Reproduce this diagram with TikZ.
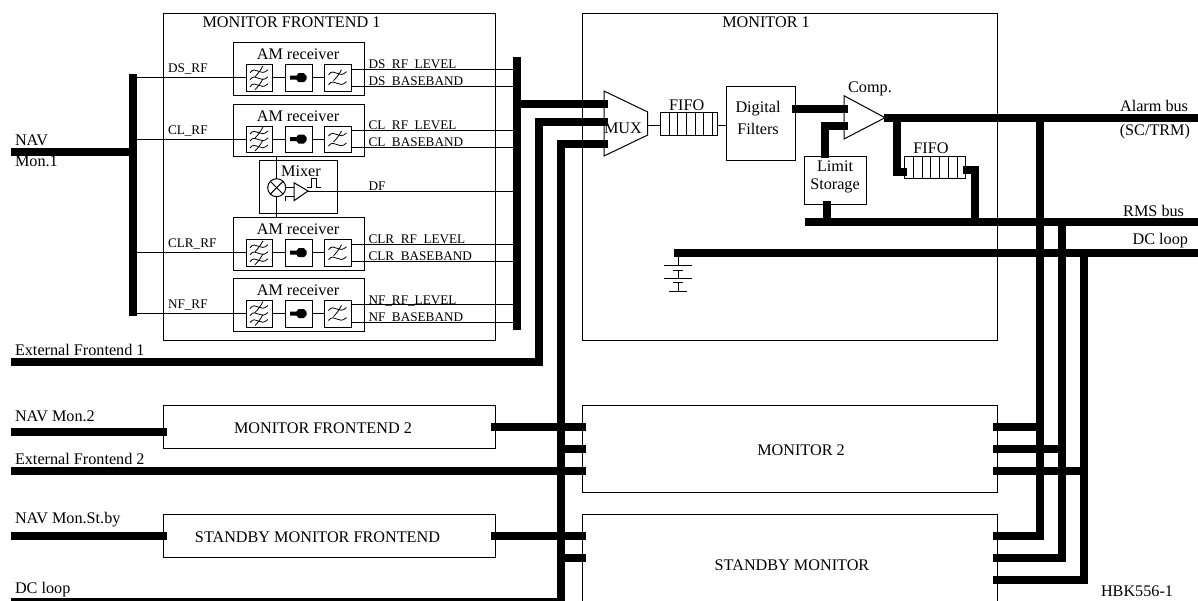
\documentclass[tikz,border=0pt]{standalone}
\usepackage{fontspec}
\setmainfont{Liberation Serif}
\tikzset{
  boxst/.style={draw=black,line width=0.75pt,inner sep=0pt,outer sep=0pt,fill=none},
  thin wire/.style={draw=black,line width=0.75pt},
  fine/.style={draw=black,line width=0.6pt},
  bus/.style={draw=black,line width=6pt,line cap=butt,line join=miter},
  txt/.style={font=\fontsize{12.15}{14}\selectfont,inner sep=0pt,outer sep=0pt},
  sig/.style={font=\fontsize{9.9}{12}\selectfont,inner sep=0pt,outer sep=0pt},
}
\newcommand\bx[5]{%
  \pgfmathsetmacro\bw{((#4)-(#2))*0.75}\pgfmathsetmacro\bh{((#5)-(#3))*0.75}%
  \node[boxst,minimum width=\bw pt,minimum height=\bh pt] (#1) at ({((#2)+(#4))/2},{((#3)+(#5))/2}) {};}
\newcommand\fwave[1]{\draw[fine] (4,#1+2) .. controls (10,#1-6) and (14,#1+7) .. (22,#1-1);}
\newcommand\fslash[1]{\draw[fine] (9,#1+5) .. controls (12,#1+2) and (15,#1-2) .. (17,#1-6);}
% receiver: #1 name, #2 top y, #3 rf label, #4 output-1, #5 output-2
\newcommand\amrx[5]{%
  \pgfmathsetmacro\Ta{#2}%
  \bx{#1}{233}{\Ta}{364}{\Ta+52.5}
  \node[txt] (#1t) at (298,{\Ta+12}) {AM receiver};
  \bx{#1a}{246}{\Ta+22}{272}{\Ta+48.5}
  \bx{#1b}{285}{\Ta+22}{312}{\Ta+48.5}
  \bx{#1c}{324.5}{\Ta+22}{351.5}{\Ta+48.5}
  \begin{scope}[shift={(246,\Ta+22)}]
    \fwave{6}\fwave{13}\fwave{20}\fslash{7}\fslash{20}
  \end{scope}
  \begin{scope}[shift={(324.5,\Ta+22)}]
    \fwave{8}\fwave{18}\fslash{11}
  \end{scope}
  \fill[black] (290,\Ta+33) -- (296.5,\Ta+33) -- (298.5,\Ta+30.5) -- (304,\Ta+30.5) -- (306.7,\Ta+33.5) -- (306.7,\Ta+36.5) -- (304,\Ta+39.5) -- (298.5,\Ta+39.5) -- (296.5,\Ta+37) -- (290,\Ta+37) -- cycle;
  \coordinate (#1in) at (246,\Ta+35);
  \coordinate (#1ra) at (137,\Ta+35);
  \draw[thin wire] (#1ra) -- (#1in);
  \draw[thin wire] (#1a.east |- #1in) -- (#1b.west |- #1in);
  \draw[thin wire] (#1b.east |- #1in) -- (#1c.west |- #1in);
  \coordinate (#1ua) at (351.5,\Ta+26.3);
  \coordinate (#1ub) at (513,\Ta+26.3);
  \coordinate (#1va) at (351.5,\Ta+43.5);
  \coordinate (#1vb) at (513,\Ta+43.5);
  \draw[thin wire] (#1ua) -- (#1ub);
  \draw[thin wire] (#1va) -- (#1vb);
  \node[sig,anchor=base west] (#1l) at (168,\Ta+30) {#3};
  \node[sig,anchor=base west] (#1m) at (368.5,\Ta+25.5) {#4};
  \node[sig,anchor=base west] (#1n) at (368.5,\Ta+42.7) {#5};
}
\newcommand\fifo[6]{% name x1 y1 x2 y2 first-divider
  \bx{#1}{#2}{#3}{#4}{#5}
  \foreach \i in {0,...,5} {\draw[thin wire] ({#6+8.7*\i},#3) -- ({#6+8.7*\i},#5);}
}
\begin{document}
\begin{tikzpicture}[x=0.75pt,y=-0.75pt]
\useasboundingbox (0,0) rectangle (1198,600);
\clip (0,0) rectangle (1198,600);
% big boxes
\bx{fe1}{163}{13}{495}{340}
\bx{mon1}{582}{13}{997}{340}
\bx{fe2}{163}{405.3}{495}{448.7}
\bx{fes}{163}{514.3}{495}{557.7}
\bx{mon2}{582}{405.3}{997}{492.3}
\bx{mons}{582}{514.3}{997}{612}
\node[txt] (fe1t) at (291.5,22.5) {MONITOR FRONTEND 1};
\node[txt] (mon1t) at (766,22.5) {MONITOR 1};
\node[txt] (fe2t) at (323,428) {MONITOR FRONTEND 2};
\node[txt] (fest) at (317.5,537) {STANDBY MONITOR FRONTEND};
\node[txt] (mon2t) at (801,450) {MONITOR 2};
\node[txt] (monst) at (792,565) {STANDBY MONITOR};
% receivers
\amrx{ds}{42.7}{DS\_RF}{DS\_RF\_LEVEL}{DS\_BASEBAND}
\amrx{cl}{104}{CL\_RF}{CL\_RF\_LEVEL}{CL\_BASEBAND}
\amrx{clr}{217.7}{CLR\_RF}{CLR\_RF\_LEVEL}{CLR\_BASEBAND}
\amrx{nf}{278.5}{NF\_RF}{NF\_RF\_LEVEL}{NF\_BASEBAND}
% mixer
\bx{mix}{259.3}{160.3}{337.7}{213.3}
\node[txt] (mixt) at (301,171.5) {Mixer};
\node[draw=black,line width=0.75pt,circle,minimum size=13.5pt,inner sep=0pt,outer sep=0pt] (mult) at (276.7,187.7) {};
\draw[thin wire] (mult.north west) -- (mult.south east);
\draw[thin wire] (mult.north east) -- (mult.south west);
\coordinate (cltap) at (276.7,156);
\coordinate (clrtap) at (276.7,217.7);
\draw[thin wire] (cltap) -- (mult);
\draw[thin wire] (clrtap) -- (mult);
\coordinate (ampa) at (294,182.7);
\coordinate (ampb) at (294,200.7);
\coordinate (ampc) at (308,191);
\draw[thin wire] (ampa) -- (ampb) -- (ampc) -- cycle;
\draw[thin wire] (mult.east) -- (294,187.7);
\draw[thin wire] (285,200.7) -- (285,196) -- (294,196);
\draw[fine] (307.3,187.3) -- (311.7,187.3) -- (311.7,178.3) -- (316.7,178.3) -- (316.7,187.3) -- (320.7,187.3);
\coordinate (dfend) at (513,191);
\draw[thin wire] (ampc) -- (dfend);
\node[sig,anchor=base west] (dft) at (368.5,190) {DF};
% NAV input
\coordinate (navA) at (11,152); \coordinate (navB) at (133,152);
\coordinate (barAt) at (133,74); \coordinate (barAb) at (133,316);
\draw[bus] (navA) -- (navB);
\draw[bus] (barAt) -- (barAb);
\coordinate (barBt) at (517,57); \coordinate (barBb) at (517,330);
\draw[bus] (barBt) -- (barBb);
% monitor 1 internals
\coordinate (mx1) at (604,91); \coordinate (mx2) at (647.7,112); \coordinate (mx3) at (647.7,135); \coordinate (mx4) at (604,156);
\draw[thin wire] (mx1) -- (mx2) -- (mx3) -- (mx4) -- cycle;
\fifo{ff1}{660.3}{112.7}{717.7}{135}{669}
\node[txt] (ff1t) at (686.7,105) {FIFO};
\bx{dig}{726}{86.7}{795.7}{160.3}
\node[txt] (digt) at (758,109) {Digital};
\node[txt] (digu) at (758,129) {Filters};
\draw[thin wire] (647.7,125.7) -- (ff1.west |- 0,125.7);
\draw[thin wire] (ff1.east |- 0,125.7) -- (dig.west |- 0,125.7);
\coordinate (cm1) at (844,95.7); \coordinate (cm2) at (844,139); \coordinate (cm3) at (885,117.7);
\draw[thin wire] (cm1) -- (cm3) -- (cm2) -- cycle;
\node[txt] (compt) at (870,89) {Comp.};
\bx{lim}{804.3}{156}{866}{204.3}
\node[txt] (limt) at (835,166) {Limit};
\node[txt] (limu) at (835,186) {Storage};
\fifo{ff2}{904.3}{156}{965.7}{178.7}{913.5}
\node[txt] (ff2t) at (931,148) {FIFO};
% battery
\coordinate (batt) at (678,253);
\coordinate (bat1) at (678,265.3); \coordinate (bat2) at (678,270); \coordinate (bat3) at (678,278.7);
\coordinate (bat4) at (678,282.7); \coordinate (bat5) at (678,291.7);
\draw[thin wire] (batt) -- (bat1);
\draw[thin wire] (664,265.3) -- (692,265.3);
\draw[thin wire] (673,270) -- (683,270);
\draw[thin wire] (bat2) -- (bat3);
\draw[thin wire] (664,278.7) -- (692,278.7);
\draw[thin wire] (673,282.7) -- (683,282.7);
\draw[thin wire] (bat4) -- (bat5);
\draw[thin wire] (669,291.7) -- (687,291.7);
% buses, monitor 1
\coordinate (m1a) at (608,104); \coordinate (m1as) at (517,104);
\draw[bus] (m1as) -- (m1a);
\coordinate (m1b) at (608,122); \coordinate (m1bc) at (539,122); \coordinate (ext1c) at (539,362); \coordinate (ext1) at (11,362);
\draw[bus] (m1b) -- (m1bc) -- (ext1c) -- (ext1);
\coordinate (m1c) at (608,144); \coordinate (m1cc) at (561,144); \coordinate (dcc) at (561,602); \coordinate (dcl) at (11,602);
\draw[bus] (m1c) -- (m1cc) -- (dcc) -- (dcl);
\node[txt,anchor=west] (muxt) at (604,128) {MUX};
\coordinate (dg1) at (792,109); \coordinate (dg2) at (848,109);
\draw[bus] (dg1) -- (dg2);
\coordinate (li1) at (848,126); \coordinate (li2) at (825,126); \coordinate (li3) at (825,158);
\draw[bus] (li1) -- (li2) -- (li3);
\coordinate (alarmA) at (884,118); \coordinate (alarmB) at (1198,118);
\draw[bus] (alarmA) -- (alarmB);
\coordinate (rmsA) at (805,222); \coordinate (rmsB) at (1198,222);
\draw[bus] (rmsA) -- (rmsB);
\coordinate (dcA) at (674,253); \coordinate (dcB) at (1198,253);
\draw[bus] (dcA) -- (dcB);
\coordinate (ls1) at (827,201); \coordinate (ls2) at (827,222);
\draw[bus] (ls1) -- (ls2);
\coordinate (bf1) at (897,118); \coordinate (bf2) at (897,171.7); \coordinate (bf3) at (907,171.7);
\draw[bus] (bf1) -- (bf2) -- (bf3);
\coordinate (cf1) at (963,170); \coordinate (cf2) at (975,170); \coordinate (cf3) at (975,222);
\draw[bus] (cf1) -- (cf2) -- (cf3);
% right verticals
\coordinate (vA1) at (1040,118); \coordinate (vA2) at (1040,535.7); \coordinate (vA3) at (993,535.7);
\coordinate (vB1) at (1062,222); \coordinate (vB2) at (1062,557.7); \coordinate (vB3) at (993,557.7);
\coordinate (vC1) at (1084,253); \coordinate (vC2) at (1084,580); \coordinate (vC3) at (993,580);
\draw[bus] (vA1) -- (vA2) -- (vA3);
\draw[bus] (vB1) -- (vB2) -- (vB3);
\draw[bus] (vC1) -- (vC2) -- (vC3);
\coordinate (s2a) at (993,427); \coordinate (s2ae) at (1040,427);
\coordinate (s2b) at (993,449); \coordinate (s2be) at (1062,449);
\coordinate (s2c) at (993,470.7); \coordinate (s2ce) at (1084,470.7);
\draw[bus] (s2a) -- (s2ae);
\draw[bus] (s2b) -- (s2be);
\draw[bus] (s2c) -- (s2ce);
% lower-left buses
\coordinate (n2a) at (11,432); \coordinate (n2b) at (167,432);
\draw[bus] (n2a) -- (n2b);
\coordinate (o2a) at (491,426.7); \coordinate (o2b) at (586,426.7);
\draw[bus] (o2a) -- (o2b);
\coordinate (o2c) at (561,448.7); \coordinate (o2d) at (586,448.7);
\draw[bus] (o2c) -- (o2d);
\coordinate (e2a) at (11,470.7); \coordinate (e2b) at (586,470.7);
\draw[bus] (e2a) -- (e2b);
\coordinate (nsa) at (11,535.7); \coordinate (nsb) at (167,535.7);
\draw[bus] (nsa) -- (nsb);
\coordinate (osa) at (491,535.7); \coordinate (osb) at (586,535.7);
\draw[bus] (osa) -- (osb);
\coordinate (osc) at (561,558); \coordinate (osd) at (586,558);
\draw[bus] (osc) -- (osd);
% outer labels
\node[txt,anchor=west] (l1) at (15,140) {NAV};
\node[txt,anchor=west] (l2) at (15,161) {Mon.1};
\node[txt,anchor=west] (l3) at (15,350) {External Frontend 1};
\node[txt,anchor=west] (l4) at (15,416) {NAV Mon.2};
\node[txt,anchor=west] (l5) at (15,459) {External Frontend 2};
\node[txt,anchor=west] (l6) at (15,520) {NAV Mon.St.by};
\node[txt,anchor=west] (l7) at (15,590) {DC loop};
\node[txt,anchor=east] (r1) at (1188,106) {Alarm bus};
\node[txt,anchor=east] (r2) at (1190,132) {(SC/TRM)};
\node[txt,anchor=east] (r3) at (1184,211) {RMS bus};
\node[txt,anchor=east] (r4) at (1188,241) {DC loop};
\node[txt,anchor=west] (r5) at (1101,591) {HBK556-1};
\end{tikzpicture}
\end{document}
